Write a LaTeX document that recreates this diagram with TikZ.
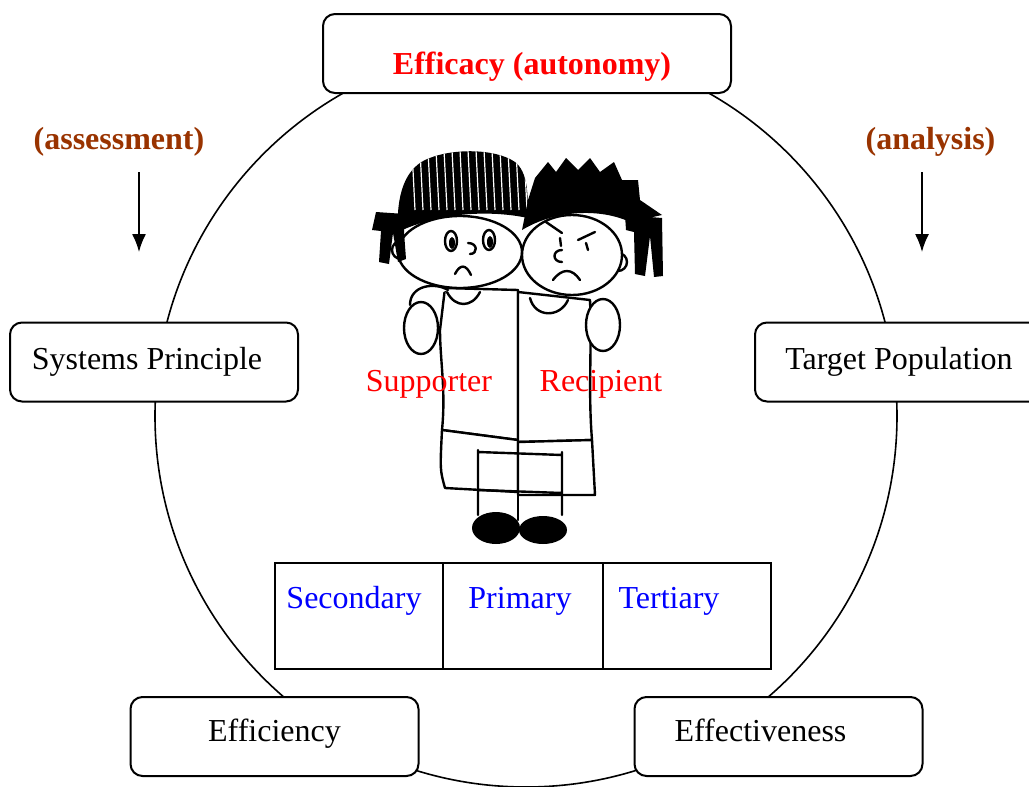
\documentclass[tikz,border=0pt]{standalone}
\usepackage{fontspec}
\setmainfont{Liberation Serif}
\usetikzlibrary{positioning, arrows.meta}
\definecolor{rust}{RGB}{153,51,0}
\tikzset{
x=0.5pt, y=-0.5pt, % one unit is one pixel of the sketch, y runs downwards
>={Latex[length=9pt, width=7pt]}, % solid arrow heads
every node/.style={font=\fontsize{16}{19}\selectfont}, % sets the size of all the texts
heavy/.style={font=\fontsize{16}{19}\selectfont\bfseries}, % the bold texts
corner/.style={draw, line width=1pt, rounded corners=6pt, fill=white, minimum width=144pt, minimum height=39.5pt}, % the rounded boxes on the circle
cell/.style={draw, line width=0.8pt, outer sep=0pt, minimum height=53pt, text height=11pt, text depth=19pt, text=blue}, % the cells of the table
ink/.style={line width=1.2pt, line join=round, line cap=round}, % the lines of the two kids
}

\begin{document}
\begin{tikzpicture}
    \useasboundingbox (0,0) rectangle (1029,787);
    \draw[line width=0.8pt] (526,416) circle [radius=185.5pt];

    % the two kids
    \draw[ink, fill=white] (445,288) -- (518,290) -- (518,440) -- (442,430) .. controls (446,390) and (440,360) .. (440,330) -- cycle;
    \draw[ink, fill=white] (518,292) -- (590,300) .. controls (592,350) and (588,390) .. (592,440) -- (518,442) -- cycle;
    \draw[ink, fill=white] (410,305) .. controls (410,285) and (435,282) .. (448,290);
    \draw[ink, fill=white] (421,328) ellipse [x radius=8.5pt, y radius=13pt];
    \draw[ink, fill=white] (603,325) ellipse [x radius=8.5pt, y radius=13pt];
    \draw[ink, fill=white] (442,430) -- (518,440) -- (518,492) -- (445,488) .. controls (440,470) .. (442,430);
    \draw[ink, fill=white] (518,442) -- (592,440) -- (595,495) -- (518,495) -- cycle;
    \draw[ink] (478,450) -- (478,515) (562,452) -- (562,515) (478,452) -- (562,455) (478,490) -- (562,493);
    \draw[ink] (518,290) -- (518,520);
    \fill (496,528) ellipse [x radius=12pt, y radius=8pt];
    \fill (543,530) ellipse [x radius=12pt, y radius=7pt];

    \draw[ink, fill=white] (401,250) circle [radius=4.5pt];
    \draw[ink, fill=white] (460,252) ellipse [x radius=31pt, y radius=18pt];
    \fill[path picture={\foreach \x in {412,420,...,524} \draw[white, line width=0.6pt] (\x,150) -- ({\x+3},210);}]
        (398,232) .. controls (396,195) and (405,170) .. (425,160) .. controls (450,148) and (495,148) .. (515,162) .. controls (528,172) and (528,195) .. (528,218) .. controls (490,210) and (440,212) .. (398,232) -- cycle;
    \fill (405,214) -- (376,212) -- (372,230) -- (381,231) -- (379,262) -- (389,264) -- (393,233) -- (398,262) -- (406,259) -- (404,232) -- cycle;
    \draw[ink, fill=white] (451,241) ellipse [x radius=3pt, y radius=5pt];
    \draw[ink, fill=white] (489,240) ellipse [x radius=3pt, y radius=5pt];
    \fill (452,243) ellipse [x radius=1.5pt, y radius=3pt];
    \fill (490,242) ellipse [x radius=1.5pt, y radius=3pt];
    \draw[ink] (468,243) .. controls (478,243) and (478,254) .. (470,254);
    \draw[ink] (455,274) .. controls (460,264) and (466,264) .. (471,275);
    \draw[ink] (447,292) .. controls (455,308) and (472,308) .. (480,292);

    \draw[ink, fill=white] (618,262) circle [radius=4.5pt];
    \draw[ink, fill=white] (572,255) ellipse [x radius=25pt, y radius=20pt];
    \fill (522,230) -- (528,200) -- (535,178) -- (548,162) -- (556,172) -- (566,158) -- (578,170) -- (590,158) -- (600,172) -- (614,162) -- (622,180) -- (638,180) -- (640,200) -- (662,215) -- (630,222) .. controls (600,208) and (555,210) .. (522,230) -- cycle;
    \fill (625,215) -- (662,218) -- (663,276) -- (654,277) -- (650,236) -- (645,276) -- (635,274) -- (634,232) -- (626,230) -- cycle;
    \draw[ink] (546,222) -- (562,233) (578,240) -- (595,232);
    \draw[ink] (560,238) -- (561,246) (586,243) -- (588,250);
    \draw[ink] (562,250) .. controls (552,250) and (552,262) .. (562,262);
    \draw[ink] (553,280) .. controls (562,268) and (572,268) .. (580,280);
    \draw[ink] (530,298) .. controls (535,318) and (560,318) .. (568,300);

    \node[text=red] (supporter) at (429,384) {Supporter};
    \node[text=red] (recipient) at (601,384) {Recipient};

    % the boxes
    \node[corner, heavy, minimum width=204pt, text=red, text height=22pt, text depth=0.5pt] (efficacy) at (527,53.5) {Efficacy (autonomy)\hspace*{-5pt}};
    \node[corner] (systems) at (154,362) {Systems Principle\hspace*{7pt}};
    \node[corner] (target) at (899,362) {Target Population};
    \node[corner, text height=11pt, text depth=6.5pt] (efficiency) at (274.5,736.5) {Efficiency};
    \node[corner, text height=11pt, text depth=6pt] (effective) at (778.5,736.5) {Effectiveness\hspace*{18pt}};

    \node[cell, minimum width=84pt] (secondary) at (359,616) {Secondary\hspace*{5pt}};
    \node[cell, minimum width=80pt, right=0pt of secondary] (primary) {Primary\hspace*{3pt}};
    \node[cell, minimum width=84pt, right=0pt of primary] (tertiary) {Tertiary\hspace*{18pt}};

    \node[heavy, text=rust] (assess) at (119,142) {(assessment)};
    \node[heavy, text=rust] (analysis) at (930.5,142) {(analysis)};
    \coordinate (assessTop) at (139,172);
    \coordinate (assessEnd) at (139,252);
    \coordinate (analysisTop) at (922,172);
    \coordinate (analysisEnd) at (922,252);
    \path[->, line width=0.8pt]
    (assessTop) edge (assessEnd)
    (analysisTop) edge (analysisEnd);
\end{tikzpicture}
\end{document}
